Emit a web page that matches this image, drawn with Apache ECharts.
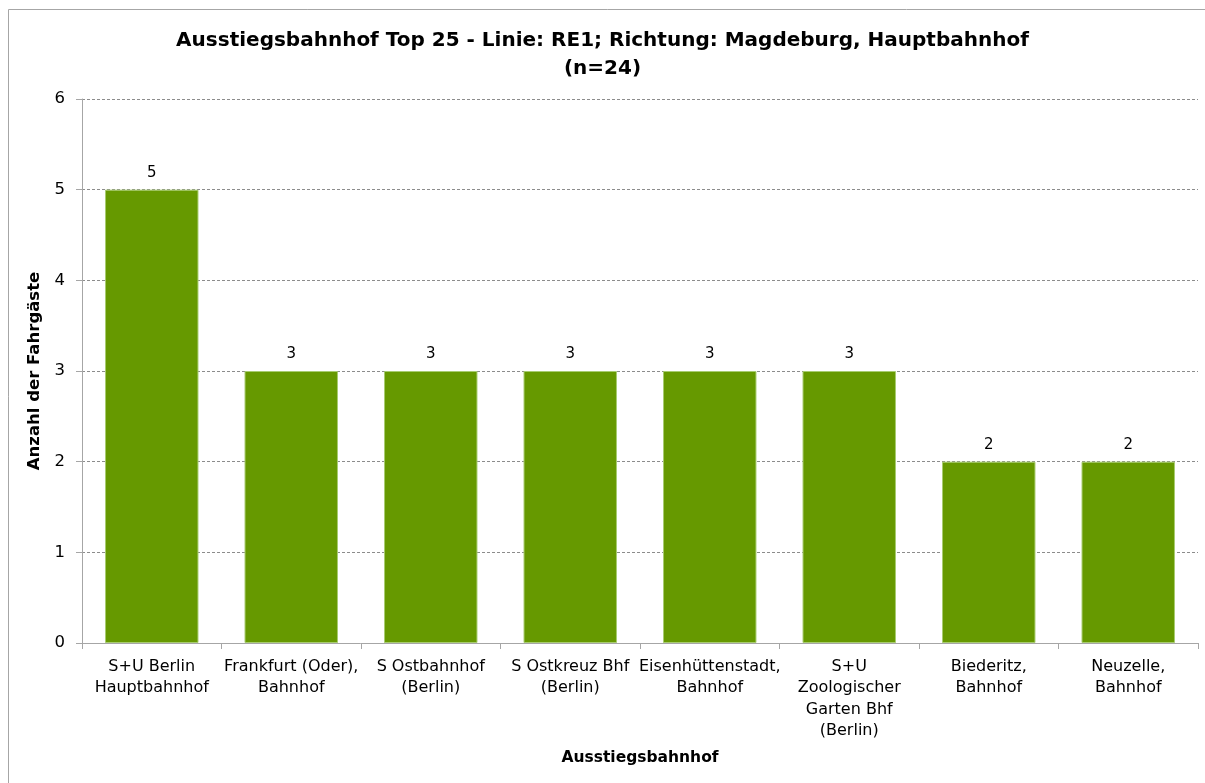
<!DOCTYPE html>
<html>
<head>
<meta charset="utf-8">
<script src="https://cdn.jsdelivr.net/npm/echarts@6/dist/echarts.min.js"></script>
<style>
  html, body { margin: 0; padding: 0; background: #fff; }
  #chart { width: 1205px; height: 783px; }
</style>
</head>
<body>
<div id="chart"></div>
<script>
// Alighting stations on RE1 towards Magdeburg Hbf
const stations = [
  'S+U Berlin\nHauptbahnhof',
  'Frankfurt (Oder),\nBahnhof',
  'S Ostbahnhof\n(Berlin)',
  'S Ostkreuz Bhf\n(Berlin)',
  'Eisenhüttenstadt,\nBahnhof',
  'S+U\nZoologischer\nGarten Bhf\n(Berlin)',
  'Biederitz,\nBahnhof',
  'Neuzelle,\nBahnhof'
];
const passengers = [5, 3, 3, 3, 3, 3, 2, 2];

const titleText = 'Ausstiegsbahnhof Top 25 - Linie: RE1; Richtung: Magdeburg, Hauptbahnhof\n(n=24)';
const yName = 'Anzahl der Fahrgäste';
const xName = 'Ausstiegsbahnhof';

const FONT = 'Tahoma, "DejaVu Sans", Verdana, sans-serif';

const chart = echarts.init(document.getElementById('chart'), null, { renderer: 'canvas' });
chart.setOption({
  animation: false,
  backgroundColor: '#fff',
  textStyle: { fontFamily: FONT },
  graphic: [{
    type: 'rect',
    shape: { x: 8.5, y: 9.5, width: 1210, height: 800 },
    style: { fill: 'none', stroke: '#a6a6a6', lineWidth: 1 },
    silent: true
  }],
  title: {
    text: titleText,
    left: 'center',
    top: 22,
    textStyle: {
      fontFamily: FONT,
      fontSize: 20,
      fontWeight: 'bold',
      color: '#000',
      lineHeight: 28
    }
  },
  grid: { left: 82, right: 7, top: 99, bottom: 140, containLabel: false },
  xAxis: {
    type: 'category',
    data: stations,
    name: xName,
    nameLocation: 'middle',
    nameGap: 107,
    nameTextStyle: { fontFamily: FONT, fontSize: 15.5, fontWeight: 'bold', color: '#000' },
    axisLine: { lineStyle: { color: '#a6a6a6', width: 1 } },
    axisTick: { show: true, alignWithLabel: false, length: 6, lineStyle: { color: '#a6a6a6' } },
    axisLabel: {
      interval: 0,
      color: '#000',
      fontFamily: FONT,
      fontSize: 16,
      lineHeight: 21.5,
      margin: 13
    }
  },
  yAxis: {
    type: 'value',
    min: 0,
    max: 6,
    interval: 1,
    name: yName,
    nameLocation: 'middle',
    nameGap: 31,
    nameRotate: 90,
    nameTextStyle: { fontFamily: FONT, fontSize: 16.5, fontWeight: 'bold', color: '#000' },
    axisLine: { show: true, lineStyle: { color: '#a6a6a6', width: 1 } },
    axisTick: { show: true, length: 6, lineStyle: { color: '#a6a6a6' } },
    axisLabel: { color: '#000', fontFamily: FONT, fontSize: 16.5, margin: 17 },
    splitLine: { show: true, lineStyle: { color: '#8c8c8c', type: [3, 2], width: 1 } }
  },
  series: [{
    type: 'bar',
    data: passengers,
    barCategoryGap: '33%',
    itemStyle: { color: '#669900', borderColor: '#a8cc70', borderWidth: 1 },
    label: {
      show: true,
      position: 'top',
      distance: 9,
      color: '#000',
      fontFamily: FONT,
      fontSize: 15
    }
  }]
});
</script>
</body>
</html>
